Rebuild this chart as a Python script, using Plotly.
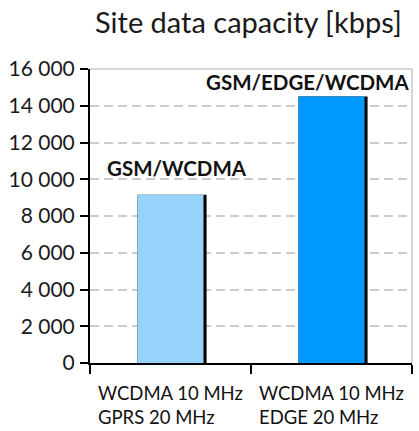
import plotly.graph_objects as go

categories = ["cat1", "cat2"]
category_labels = ["WCDMA 10 MHz<br>GPRS 20 MHz", "WCDMA 10 MHz<br>EDGE 20 MHz"]
values = [9150, 14500]
bar_labels = ["GSM/WCDMA", "GSM/EDGE/WCDMA"]
bar_colors = ["#96D2FA", "#0099FF"]
tick_vals = [0, 2000, 4000, 6000, 8000, 10000, 12000, 14000, 16000]
tick_text = ["0", "2 000", "4 000", "6 000", "8 000", "10 000", "12 000", "14 000", "16 000"]
title = "Site data capacity [kbps]"

FONT = "Lato"
bw = 0.41
fig = go.Figure()
# dark shadow edge on right side of bars
fig.add_trace(go.Bar(x=categories, y=values, marker=dict(color="#000000", line_width=0),
                     width=bw + 0.019, offset=-bw / 2, hoverinfo="skip"))
fig.add_trace(go.Bar(x=categories, y=values, marker=dict(color=bar_colors, line_width=0),
                     width=bw, offset=-bw / 2))

fig.update_layout(
    width=419, height=431,
    margin=dict(l=90, r=7, t=69, b=68, autoexpand=False),
    paper_bgcolor="white", plot_bgcolor="white",
    barmode="overlay", showlegend=False,
    font=dict(family=FONT, color="#1a1a1a"),
)
fig.update_yaxes(range=[0, 16000], tickvals=tick_vals, ticktext=tick_text, automargin=False,
                 showline=True, linecolor="black", linewidth=2,
                 ticks="outside", ticklen=8, tickwidth=2, tickcolor="black",
                 tickfont=dict(size=21, family=FONT, color="#1a1a1a"),
                 showgrid=True, gridcolor="#cccccc", gridwidth=1.8, griddash="9px,5px",
                 zeroline=False, ticklabelstandoff=1)
fig.update_xaxes(showline=True, linecolor="black", linewidth=2, automargin=False,
                 ticks="outside", tickson="boundaries", ticklen=9, tickwidth=2, tickcolor="black",
                 showticklabels=False, showgrid=False)

# top and right border of plot frame
fig.add_shape(type="line", xref="paper", yref="paper", x0=0, x1=1, y0=1, y1=1,
              line=dict(color="#c8c8c8", width=1.5))
fig.add_shape(type="line", xref="paper", yref="paper", x0=1, x1=1, y0=0, y1=1,
              line=dict(color="#c8c8c8", width=1.5))

for c, lab in zip(categories, category_labels):
    fig.add_annotation(x=c, xref="x", y=0, yref="paper", yanchor="top", yshift=-17,
                       text=lab, showarrow=False, align="left",
                       font=dict(size=18.5, family=FONT, color="#111111"))

shifts = [(6, 13), (-24, 1)]
for c, v, lab, (dx, dy) in zip(categories, values, bar_labels, shifts):
    fig.add_annotation(x=c, y=v, yanchor="bottom", xshift=dx, yshift=dy, text="<b>" + lab + "</b>",
                       showarrow=False, font=dict(size=20.5, family=FONT, color="#111111"))

fig.add_annotation(x=1, xref="paper", xanchor="right", xshift=-8, y=1, yref="paper",
                   yanchor="bottom", yshift=28, text=title, showarrow=False,
                   font=dict(size=29, family=FONT, color="#1a1a1a"))

fig.write_html("out.html", config={"displayModeBar": False},
               post_script="document.body.style.margin='0';document.body.style.overflow='hidden';")
